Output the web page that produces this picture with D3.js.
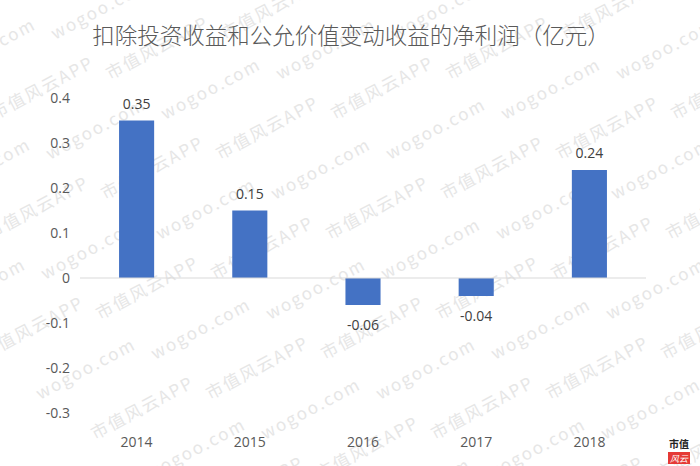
<!DOCTYPE html>
<html>
<head>
<meta charset="utf-8">
<script src="https://cdn.jsdelivr.net/npm/d3@7"></script>
<style>
  body { margin: 0; background: #fff; }
  svg { display: block; font-family: "Noto Sans CJK SC", "Noto Sans", sans-serif; }
</style>
</head>
<body>
<svg width="700" height="466"></svg>
<script>
// chart data
const years = ["2014", "2015", "2016", "2017", "2018"];
const profits = [0.35, 0.15, -0.06, -0.04, 0.24];
const yTicks = [-0.3, -0.2, -0.1, 0, 0.1, 0.2, 0.3, 0.4];
const titleText = "扣除投资收益和公允价值变动收益的净利润（亿元）";

const svg = d3.select("svg");

// plain hyphen for negatives, like the reference
const locale = d3.formatLocale({ decimal: ".", thousands: ",", grouping: [3], currency: ["", ""], minus: "-" });
const fmt1 = locale.format(".1f");
const fmt2 = locale.format(".2f");

// background watermark covering the whole picture, drawn first so it sits under the chart
const wm = svg.append("g").attr("fill", "#e6e6e6").attr("font-size", "17px");
for (let row = -6; row < 20; row++) {
    for (let col = -3; col < 8; col++) {
        const cx = col * 170 + row * 55;
        const cy = row * 40;
        if (cx < -130 || cx > 720 || cy < -10 || cy > 540) continue;
        wm.append("text")
            .attr("transform", `translate(${cx}, ${cy}) rotate(-28)`)
            .attr("letter-spacing", "2px")
            .text((row + col) % 2 === 0 ? "市值风云APP" : "wogoo.com");
    }
}

// title
svg.append("text")
    .attr("x", 351)
    .attr("y", 44)
    .attr("text-anchor", "middle")
    .attr("font-size", "22.5px")
    .attr("font-weight", 300)
    .attr("fill", "#595959")
    .text(titleText);

const margin = { left: 80, right: 54 };
const x = d3.scaleBand()
    .domain(years)
    .range([margin.left, 700 - margin.right])
    .paddingInner(0.69)
    .paddingOuter(0.345);

const y = d3.scaleLinear()
    .domain([-0.3, 0.4])
    .range([413, 98]);

// y-axis tick labels (no axis line)
const yAxis = svg.append("g")
    .attr("transform", "translate(70, 0)")
    .call(d3.axisLeft(y).tickValues(yTicks).tickSize(0).tickPadding(0)
        .tickFormat(d => d === 0 ? "0" : fmt1(d)));
yAxis.select(".domain").remove();
yAxis.selectAll("text")
    .attr("font-size", "14px")
    .attr("fill", "#595959")
    .attr("font-family", "'Open Sans', 'Noto Sans', sans-serif");

// bars
svg.selectAll(".bar")
    .data(profits)
    .enter()
    .append("rect")
    .attr("class", "bar")
    .attr("x", (d, i) => x(years[i]))
    .attr("width", x.bandwidth())
    .attr("y", d => y(Math.max(0, d)))
    .attr("height", d => Math.abs(y(d) - y(0)))
    .attr("fill", "#4472c4");

// zero line
svg.append("line")
    .attr("x1", margin.left)
    .attr("x2", 700 - margin.right)
    .attr("y1", y(0))
    .attr("y2", y(0))
    .attr("stroke", "#d9d9d9")
    .attr("stroke-width", 1);

// value labels
svg.selectAll(".val")
    .data(profits)
    .enter()
    .append("text")
    .attr("class", "val")
    .attr("x", (d, i) => x(years[i]) + x.bandwidth() / 2)
    .attr("y", d => d >= 0 ? y(d) - 12 : y(d) + 25)
    .attr("text-anchor", "middle")
    .attr("font-size", "14px")
    .attr("fill", "#404040")
    .attr("font-family", "'Open Sans', 'Noto Sans', sans-serif")
    .text(d => fmt2(d));

// x-axis category labels
const xAxis = svg.append("g")
    .attr("transform", "translate(0, 425)")
    .call(d3.axisBottom(x).tickSize(0).tickPadding(12));
xAxis.select(".domain").remove();
xAxis.selectAll("text")
    .attr("font-size", "14px")
    .attr("fill", "#595959")
    .attr("font-family", "'Open Sans', 'Noto Sans', sans-serif");

// small logo in the corner
const logo = svg.append("g").attr("transform", "translate(668, 438)");
logo.append("text")
    .attr("x", 11).attr("y", 10)
    .attr("text-anchor", "middle")
    .attr("font-size", "10px")
    .attr("font-weight", "bold")
    .attr("fill", "#222")
    .text("市值");
logo.append("rect")
    .attr("x", 0).attr("y", 14)
    .attr("width", 22).attr("height", 12)
    .attr("fill", "#e53935");
logo.append("text")
    .attr("x", 11).attr("y", 24)
    .attr("text-anchor", "middle")
    .attr("font-size", "9px")
    .attr("font-style", "italic")
    .attr("fill", "#fff")
    .text("风云");
</script>
</body>
</html>
